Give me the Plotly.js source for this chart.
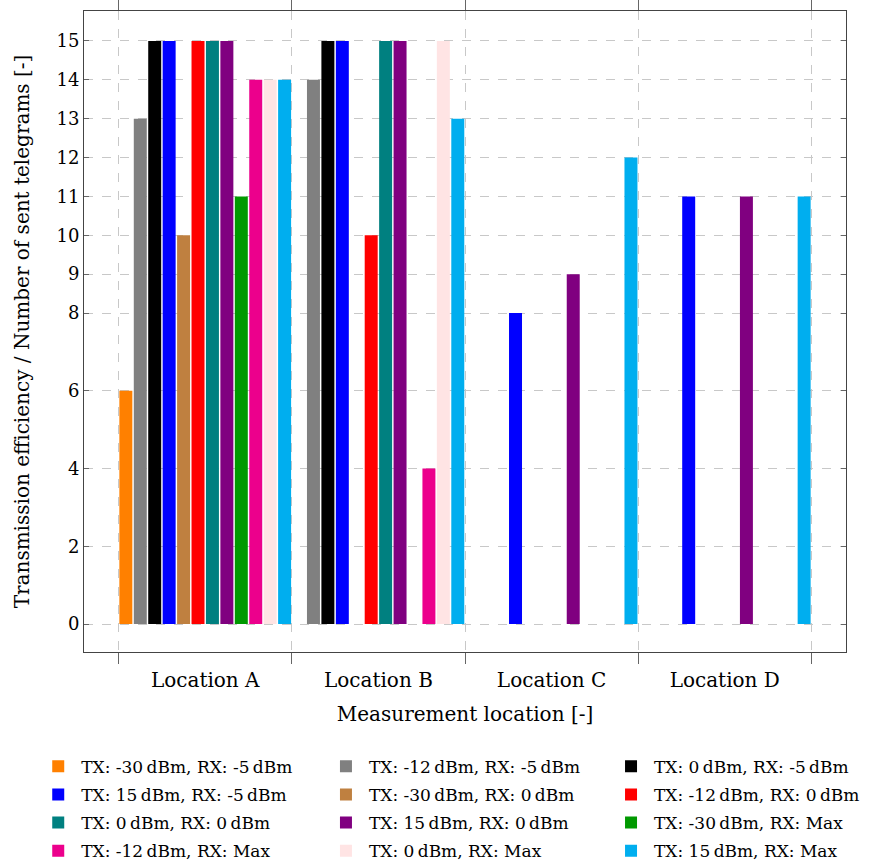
<!DOCTYPE html>
<html>
<head>
<meta charset="utf-8">
<script src="https://cdn.plot.ly/plotly-3.0.1.min.js"></script>
<style>html,body{margin:0;padding:0;background:#fff;}#chart{width:881px;height:867px;}</style>
</head>
<body>
<div id="chart"></div>
<script>
const categories = ["Location A", "Location B", "Location C", "Location D"];
const seriesNames = [
  "TX: -30\u2009dBm, RX: -5\u2009dBm",
  "TX: -12\u2009dBm, RX: -5\u2009dBm",
  "TX: 0\u2009dBm, RX: -5\u2009dBm",
  "TX: 15\u2009dBm, RX: -5\u2009dBm",
  "TX: -30\u2009dBm, RX: 0\u2009dBm",
  "TX: -12\u2009dBm, RX: 0\u2009dBm",
  "TX: 0\u2009dBm, RX: 0\u2009dBm",
  "TX: 15\u2009dBm, RX: 0\u2009dBm",
  "TX: -30\u2009dBm, RX: Max",
  "TX: -12\u2009dBm, RX: Max",
  "TX: 0\u2009dBm, RX: Max",
  "TX: 15\u2009dBm, RX: Max"
];
const txm30_rxm5 = [6, 0, 0, 0];
const txm12_rxm5 = [13, 14, 0, 0];
const tx0_rxm5 = [15, 15, 0, 0];
const tx15_rxm5 = [15, 15, 8, 11];
const txm30_rx0 = [10, 0, 0, 0];
const txm12_rx0 = [15, 10, 0, 0];
const tx0_rx0 = [15, 15, 0, 0];
const tx15_rx0 = [15, 15, 9, 11];
const txm30_rxmax = [11, 0, 0, 0];
const txm12_rxmax = [14, 4, 0, 0];
const tx0_rxmax = [14, 15, 0, 0];
const tx15_rxmax = [14, 13, 12, 11];
const yTicks = [0, 2, 4, 6, 8, 9, 10, 11, 12, 13, 14, 15];

const seriesValues = [txm30_rxm5, txm12_rxm5, tx0_rxm5, tx15_rxm5, txm30_rx0, txm12_rx0,
  tx0_rx0, tx15_rx0, txm30_rxmax, txm12_rxmax, tx0_rxmax, tx15_rxmax];
const colors = ["#ff8000", "#808080", "#000000", "#0000ff", "#bf8040", "#ff0000",
  "#008080", "#800080", "#009900", "#ec008c", "#ffe4e4", "#00aeef"];

const font = "'DejaVu Serif', 'Liberation Serif', serif";
const legendIds = ["legend", "legend2", "legend3"];
const traces = seriesValues.map((v, i) => ({
  type: "bar",
  x: categories,
  y: v,
  name: seriesNames[i],
  legend: legendIds[i % 3],
  legendgroup: "g" + i,
  marker: {color: colors[i], line: {width: 0}}
}));

function legendAt(x) {
  return {
    orientation: "v",
    x: x, xanchor: "left",
    y: -0.151, yanchor: "top",
    font: {family: font, size: 17},
    traceorder: "grouped",
    tracegroupgap: 3,
    itemwidth: 36,
    bgcolor: "rgba(0,0,0,0)"
  };
}

const layout = {
  width: 881, height: 867,
  margin: {l: 84, r: 35, t: 11, b: 215, autoexpand: false},
  paper_bgcolor: "#fff", plot_bgcolor: "#fff",
  barmode: "group", bargap: 0, bargroupgap: 0.1,
  font: {family: font, size: 17, color: "#000"},
  xaxis: {
    type: "category",
    range: [-0.7, 3.7],
    tickson: "boundaries",
    ticks: "outside", ticklen: 11, tickcolor: "#666", tickwidth: 1,
    ticklabelstandoff: 10,
    showline: true, linecolor: "#444", linewidth: 1, mirror: "ticks",
    showgrid: true, gridcolor: "#c8c8c8", griddash: "dash", gridwidth: 1,
    tickfont: {family: font, size: 20},
    title: {text: "Measurement location [-]", font: {family: font, size: 20}, standoff: 15}
  },
  yaxis: {
    range: [-0.72, 15.77],
    tickmode: "array", tickvals: yTicks, ticktext: yTicks.map(String),
    ticks: "inside", ticklen: 5, tickcolor: "#666",
    showline: true, linecolor: "#444", linewidth: 1, mirror: "ticks",
    showgrid: true, gridcolor: "#c8c8c8", griddash: "dash", gridwidth: 1,
    zeroline: false,
    tickfont: {family: font, size: 18},
    title: {text: "Transmission efficiency / Number of sent telegrams [-]", font: {family: font, size: 20}, standoff: 21}
  },
  legend: legendAt(-0.064),
  legend2: legendAt(0.3136),
  legend3: legendAt(0.6877),
  showlegend: true
};

Plotly.newPlot("chart", traces, layout, {displayModeBar: false, staticPlot: true});
</script>
</body>
</html>
